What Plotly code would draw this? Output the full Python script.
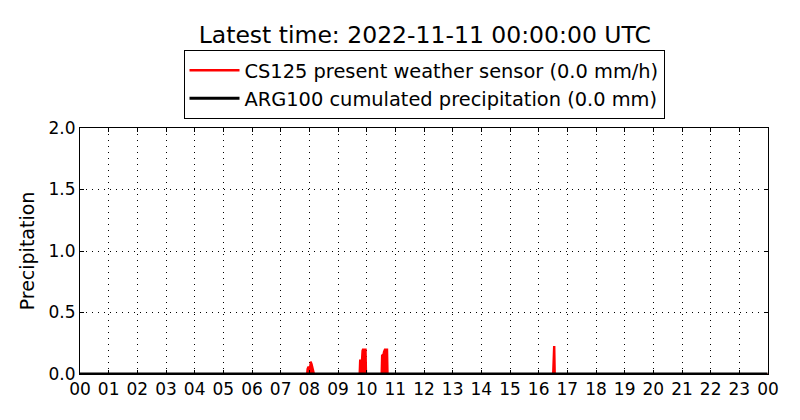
import pandas as pd
import plotly.graph_objects as go

day = '2022-11-10 '

# CS125 present weather sensor, mm/h
cs125_time = ['00:00', '07:55', '07:56', '07:57', '07:58', '07:59', '08:00', '08:01', '08:02',
              '08:03', '08:04', '08:05', '08:06', '08:07', '08:08', '08:10',
              '09:45', '09:46', '09:49', '09:50', '09:51', '09:52', '09:57', '09:58', '09:59',
              '10:31', '10:32', '10:35', '10:36', '10:37', '10:38', '10:43', '10:44',
              '16:30', '16:31', '16:32', '16:33', '16:34', '23:59']
cs125_val = [0.0, 0.0, 0.04, 0.06, 0.06, 0.05, 0.02, 0.05, 0.07,
             0.1, 0.09, 0.08, 0.06, 0.06, 0.04, 0.0,
             0.0, 0.11, 0.11, 0.12, 0.19, 0.2, 0.2, 0.2, 0.0,
             0.0, 0.15, 0.16, 0.18, 0.19, 0.2, 0.2, 0.0,
             0.0, 0.22, 0.22, 0.22, 0.0, 0.0]

# ARG100 cumulated precipitation, mm
arg_time = ['00:00', '23:59']
arg_val = [0.0, 0.0]

hour_ticks = pd.date_range('2022-11-10 00:00', '2022-11-11 00:00', freq='h')

fig = go.Figure()
# filled so the dense minute spikes read as solid blocks; legend entry drawn separately
fig.add_trace(go.Scatter(x=pd.to_datetime([day + t for t in cs125_time]), y=cs125_val,
                         mode='lines', line=dict(color='red', width=2),
                         fill='tozeroy', fillcolor='red',
                         legendgroup='cs125', showlegend=False))
fig.add_trace(go.Scatter(x=[None], y=[None], mode='lines', line=dict(color='red', width=2.5),
                         legendgroup='cs125', name='CS125 present weather sensor (0.0 mm/h)'))
fig.add_trace(go.Scatter(x=pd.to_datetime([day + t for t in arg_time]), y=arg_val,
                         mode='lines', line=dict(color='black', width=3),
                         name='ARG100 cumulated precipitation (0.0 mm)'))

fig.update_layout(
    width=800, height=420,
    margin=dict(l=80, r=32, t=128, b=46, autoexpand=False),
    paper_bgcolor='white', plot_bgcolor='white',
    font=dict(family='DejaVu Sans', size=16, color='black'),
    title=dict(text='Latest time: 2022-11-11 00:00:00 UTC', x=0.531, xanchor='center',
               y=1 - 35 / 420, yanchor='middle', font=dict(size=23.5)),
    legend=dict(x=0.5, xanchor='center', y=1.317, yanchor='top',
                bordercolor='black', borderwidth=1, bgcolor='white',
                font=dict(size=19.4), tracegroupgap=0, itemwidth=50),
    showlegend=True,
)
fig.update_xaxes(
    range=[hour_ticks[0], hour_ticks[-1]], tickvals=hour_ticks,
    ticktext=[t.strftime('%H') for t in hour_ticks],
    showline=True, mirror='allticks', linecolor='black', linewidth=1,
    ticks='inside', ticklen=4, tickcolor='black',
    showgrid=True, gridcolor='black', griddash='1px,5px', gridwidth=1,
    zeroline=False, tickfont=dict(size=17), automargin=False,
)
fig.update_yaxes(
    range=[0, 2.0], tickvals=[0, 0.5, 1.0, 1.5, 2.0], tickformat='.1f',
    title=dict(text='Precipitation', font=dict(size=19), standoff=8),
    showline=True, mirror='allticks', linecolor='black', linewidth=1,
    ticks='inside', ticklen=4, tickcolor='black',
    showgrid=True, gridcolor='black', griddash='1px,5px', gridwidth=1,
    zeroline=False, tickfont=dict(size=17), automargin=False,
)

# drop the browser's default 8px page margin so the figure sits at the window corner
fig.write_html('out.html', config={'displayModeBar': False},
               post_script="document.body.style.margin = '0';")
